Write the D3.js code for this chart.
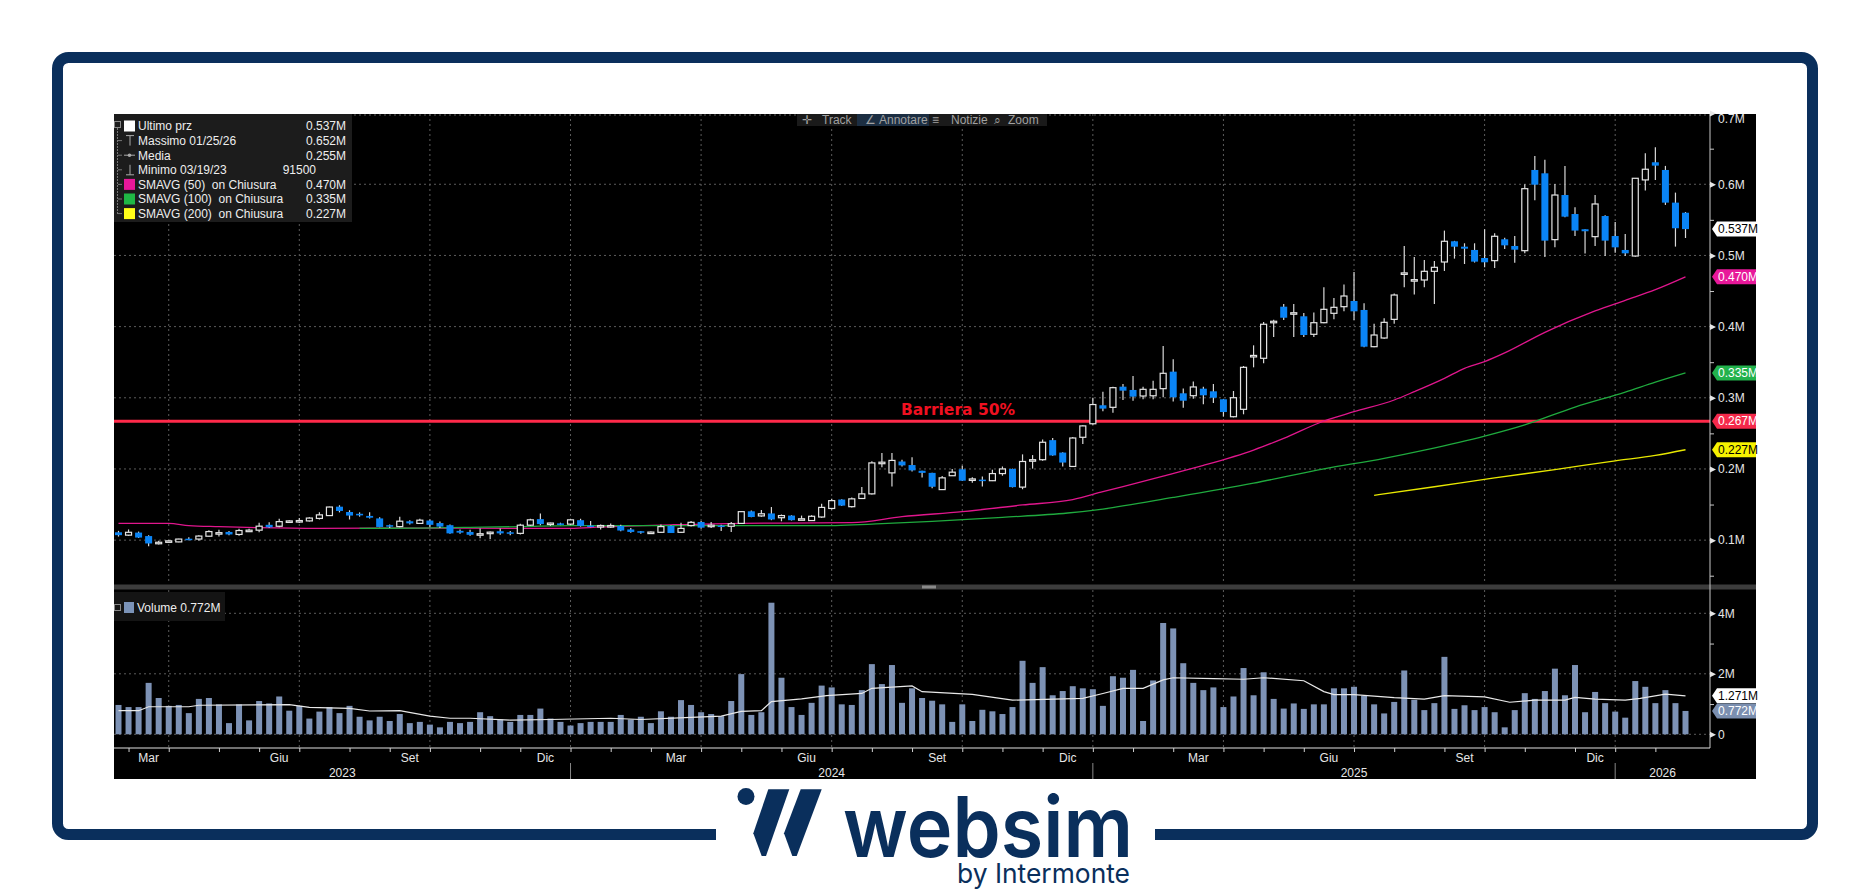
<!DOCTYPE html>
<html lang="it">
<head>
<meta charset="UTF-8">
<title>Grafico settimanale con barriera</title>
<script src="https://d3js.org/d3.v7.min.js"></script>
<style>
  body { margin: 0; background: #fff; }
  svg text { font-family: "Liberation Sans", Arial, sans-serif; }
</style>
</head>
<body>
<svg id="chart" width="1870" height="893"></svg>
<script>
// weekly candles, first bar = week of 26 Feb 2023
const firstWeek = new Date(2023, 1, 26);
const opens = [0.111,0.107,0.1106,0.1057,0.096,0.0975,0.0975,0.102,0.1015,0.1055,0.110,0.1115,0.108,0.1125,0.114,0.1215,0.1195,0.1255,0.127,0.127,
  0.1305,0.1345,0.147,0.1395,0.137,0.134,0.1305,0.121,0.119,0.1265,0.1235,0.1275,0.124,0.121,0.113,0.1115,0.1085,0.1108,0.1125,0.111,
  0.1095,0.121,0.1295,0.1235,0.1235,0.1225,0.128,0.1205,0.119,0.1195,0.120,0.115,0.1125,0.1107,0.111,0.120,0.111,0.1205,0.1255,0.1203,
  0.1205,0.1195,0.1235,0.1405,0.134,0.1375,0.1315,0.1345,0.1295,0.1275,0.1325,0.1445,0.157,0.147,0.1585,0.165,0.208,0.1945,0.2105,0.2055,
  0.1975,0.1945,0.171,0.1905,0.1995,0.1845,0.185,0.1835,0.1935,0.200,0.1745,0.212,0.213,0.2405,0.223,0.2035,0.2445,0.2635,0.2895,0.2866,
  0.3156,0.311,0.3025,0.3028,0.3128,0.3367,0.3063,0.3029,0.3128,0.3091,0.2979,0.2734,0.2838,0.3585,0.3555,0.4063,0.428,0.418,0.4145,0.3892,
  0.4055,0.4187,0.428,0.436,0.4234,0.3718,0.384,0.4102,0.474,0.465,0.4655,0.4777,0.4908,0.5199,0.5123,0.5077,0.4964,0.4927,0.5227,0.5133,
  0.5067,0.6201,0.6154,0.5222,0.5849,0.5582,0.5368,0.5264,0.5554,0.5273,0.5077,0.4992,0.6061,0.6309,0.6201,0.5742,0.560];
const highs = [0.113,0.115,0.112,0.107,0.099,0.100,0.102,0.104,0.107,0.114,0.1145,0.113,0.116,0.116,0.1245,0.125,0.130,0.128,0.131,0.132,
  0.139,0.147,0.149,0.142,0.139,0.139,0.132,0.122,0.133,0.128,0.130,0.129,0.126,0.122,0.115,0.1145,0.1165,0.112,0.1165,0.113,
  0.123,0.130,0.1375,0.1245,0.1245,0.130,0.130,0.127,0.122,0.1235,0.1215,0.117,0.113,0.112,0.122,0.1205,0.1245,0.127,0.127,0.1255,
  0.1215,0.1255,0.141,0.1415,0.1425,0.1465,0.136,0.135,0.1345,0.135,0.151,0.158,0.1575,0.160,0.1745,0.211,0.2225,0.2225,0.213,0.2165,
  0.1975,0.1945,0.190,0.200,0.2045,0.1885,0.1895,0.199,0.2035,0.2005,0.2205,0.2195,0.2415,0.2435,0.2235,0.245,0.2615,0.300,0.3085,0.3156,
  0.3194,0.3306,0.3156,0.324,0.3728,0.354,0.313,0.3228,0.3156,0.3194,0.2985,0.3095,0.3447,0.3737,0.4066,0.4097,0.4318,0.4318,0.4191,0.4199,
  0.4554,0.4402,0.4593,0.4766,0.4327,0.4041,0.4116,0.4467,0.5131,0.4978,0.4936,0.4922,0.5349,0.5205,0.5171,0.5171,0.5367,0.5311,0.525,0.5273,
  0.600,0.6398,0.6343,0.6005,0.6258,0.5677,0.5368,0.5849,0.5564,0.547,0.5301,0.6084,0.6436,0.652,0.6258,0.5883,0.561];
const lows = [0.105,0.106,0.103,0.0915,0.094,0.097,0.097,0.100,0.099,0.105,0.105,0.107,0.106,0.112,0.111,0.117,0.118,0.124,0.124,0.126,
  0.129,0.134,0.139,0.129,0.133,0.1305,0.118,0.117,0.118,0.122,0.123,0.118,0.117,0.109,0.109,0.106,0.1025,0.1015,0.1075,0.107,
  0.108,0.120,0.121,0.120,0.121,0.121,0.119,0.118,0.115,0.1175,0.1125,0.1105,0.109,0.110,0.110,0.110,0.110,0.119,0.116,0.117,
  0.113,0.1115,0.123,0.132,0.133,0.128,0.1265,0.1275,0.129,0.127,0.1315,0.143,0.148,0.146,0.158,0.164,0.2025,0.1755,0.2035,0.1965,
  0.188,0.173,0.1705,0.190,0.183,0.1805,0.1755,0.183,0.1905,0.174,0.1715,0.2005,0.2115,0.2185,0.2035,0.203,0.235,0.262,0.281,0.2791,
  0.2969,0.2959,0.298,0.298,0.3006,0.2947,0.2861,0.2987,0.291,0.2926,0.2735,0.2725,0.2768,0.3428,0.3485,0.3854,0.4093,0.3854,0.3854,0.3854,
  0.4046,0.4102,0.4215,0.4093,0.371,0.3709,0.383,0.4041,0.4554,0.4452,0.4554,0.4318,0.4782,0.4955,0.488,0.49,0.4834,0.4824,0.5091,0.4899,
  0.503,0.5774,0.4978,0.5114,0.5536,0.5274,0.5026,0.5133,0.4992,0.5039,0.4992,0.4983,0.5911,0.6061,0.571,0.5124,0.5245];
const closes = [0.107,0.111,0.1036,0.0953,0.097,0.099,0.1015,0.1015,0.1057,0.112,0.1105,0.108,0.1135,0.114,0.1196,0.118,0.126,0.127,0.1275,0.131,
  0.1355,0.1465,0.141,0.1345,0.1348,0.1315,0.1185,0.119,0.1266,0.1235,0.128,0.1215,0.119,0.1095,0.1105,0.1075,0.109,0.1112,0.1095,0.1095,
  0.121,0.1285,0.1225,0.124,0.123,0.1285,0.120,0.119,0.1205,0.1205,0.1135,0.1115,0.1105,0.1113,0.119,0.110,0.1165,0.125,0.1175,0.121,
  0.1195,0.123,0.140,0.1325,0.137,0.129,0.1345,0.128,0.130,0.1335,0.146,0.1555,0.1485,0.158,0.165,0.2085,0.2095,0.212,0.205,0.198,
  0.1945,0.175,0.1875,0.1955,0.1835,0.186,0.1835,0.1935,0.200,0.1745,0.2105,0.213,0.2375,0.219,0.209,0.2435,0.2605,0.2905,0.2848,0.3142,
  0.310,0.3016,0.3119,0.3119,0.3344,0.3007,0.2959,0.3152,0.3035,0.3001,0.28,0.3001,0.3428,0.3595,0.4033,0.4075,0.4125,0.4195,0.3882,0.4055,
  0.4243,0.4271,0.443,0.4215,0.3718,0.3882,0.406,0.4444,0.4755,0.466,0.4777,0.4833,0.5199,0.5123,0.5095,0.4913,0.4904,0.5269,0.5142,0.5081,
  0.5938,0.5994,0.5208,0.5849,0.5545,0.5349,0.534,0.5723,0.5208,0.5114,0.503,0.6084,0.6211,0.6262,0.5742,0.5382,0.537];
// weekly volume, millions
const volumes = [0.97,0.90,0.90,1.70,1.20,0.94,0.97,0.70,1.17,1.20,0.99,0.37,0.99,0.46,1.10,1.02,1.25,0.78,0.94,0.52,
  0.75,0.90,0.70,0.94,0.58,0.46,0.58,0.44,0.67,0.37,0.41,0.32,0.23,0.41,0.37,0.41,0.73,0.60,0.49,0.41,
  0.64,0.64,0.85,0.52,0.41,0.29,0.37,0.41,0.41,0.41,0.64,0.49,0.58,0.37,0.76,0.58,1.13,0.97,0.73,0.67,
  0.60,1.10,1.99,0.64,0.73,4.35,1.87,0.90,0.64,1.04,1.61,1.55,0.99,0.97,1.46,2.32,1.66,2.29,1.04,1.52,
  1.20,1.11,0.99,0.41,0.99,0.44,0.81,0.76,0.67,0.90,2.43,1.70,2.22,1.29,1.43,1.59,1.52,1.49,0.94,1.92,
  1.87,2.13,0.44,1.78,3.68,3.50,2.35,1.70,1.46,1.55,0.90,1.25,2.19,1.29,2.05,1.17,0.85,1.02,0.84,0.99,
  0.99,1.52,1.52,1.57,1.27,0.99,0.69,1.07,2.11,1.14,0.80,1.03,2.56,0.84,0.96,0.80,0.90,0.73,0.23,0.80,
  1.36,1.17,1.43,2.17,1.29,2.29,0.73,1.40,1.03,0.75,0.55,1.76,1.57,1.03,1.46,1.03,0.772];
// lines as [bar, value]
const volAvg = [[0,0.78],[2,0.78],[3,0.91],[7,0.91],[8,0.96],[17,0.98],[19,0.89],[23,0.86],[25,0.77],[28,0.78],[31,0.60],[33,0.53],
  [35,0.53],[39,0.47],[43,0.49],[49,0.53],[52,0.49],[57,0.56],[60,0.60],[62,0.76],[64,0.78],[65,1.08],[68,1.17],[70.5,1.28],[74,1.35],
  [75,1.52],[79,1.60],[80,1.41],[85,1.32],[89,1.13],[96,1.19],[98,1.35],[100,1.52],[102,1.52],[104,1.80],[105,1.87],[109,1.84],[112,1.82],
  [114,1.87],[118,1.77],[120,1.41],[121,1.31],[123,1.31],[127,1.21],[130,1.16],[132,1.28],[136,1.24],[138.5,1.06],[141,1.13],[144,1.13],
  [145,1.22],[147,1.16],[150,1.13],[151.5,1.19],[154,1.33],[156,1.271]];
const sma50 = [[0,0.1235],[5,0.1235],[7,0.1205],[10,0.119],[14,0.1175],[20,0.1165],[30,0.117],[40,0.1165],[45,0.1165],[48,0.1185],
  [55,0.1215],[62,0.1236],[73,0.1245],[78,0.1329],[84,0.140],[90,0.1494],[95,0.157],[98,0.168],[104,0.190],[108,0.205],[113,0.2266],
  [116,0.243],[120,0.2674],[123,0.2804],[127,0.2969],[129,0.3086],[132,0.3273],[134,0.3414],[136,0.3508],[138,0.363],[142,0.392],
  [147,0.422],[150,0.437],[153,0.452],[156,0.470]];
const sma100 = [[24,0.1166],[30,0.117],[35,0.118],[40,0.119],[45,0.1205],[55,0.1205],[70,0.1203],[76,0.1231],[81,0.1264],[88,0.132],
  [94.5,0.1381],[98,0.1437],[105,0.16],[113,0.18],[120,0.20],[126,0.215],[130,0.2266],[136,0.2462],[140,0.262],[145,0.287],
  [150,0.308],[153,0.322],[156,0.335]];
const sma200 = [[125,0.163],[131,0.175],[137,0.1875],[143,0.199],[149,0.2115],[153,0.219],[156,0.227]];
const barrier = 0.267;
const priceTicks = [0.1,0.2,0.3,0.4,0.5,0.6,0.7];
const priceMinor = [0.05,0.15,0.25,0.35,0.45,0.55,0.65];
const volTicks = [0,2,4];
const volMinor = [1,3];
const monthNames = ['Gen','Feb','Mar','Apr','Mag','Giu','Lug','Ago','Set','Ott','Nov','Dic'];
const labelMonths = [2,5,8,11];
const gridMonths = [0,3,6,9];
const legendLabels = ['Ultimo prz','Massimo 01/25/26','Media','Minimo 03/19/23','SMAVG (50)  on Chiusura','SMAVG (100)  on Chiusura','SMAVG (200)  on Chiusura'];
const legendValues = ['0.537M','0.652M','0.255M','91500','0.470M','0.335M','0.227M'];
const priceTags = [[0.537,'0.537M','#ffffff','#000'],[0.470,'0.470M','#e8189a','#fff'],[0.335,'0.335M','#22b24c','#fff'],
  [0.267,'0.267M','#f4294a','#fff'],[0.227,'0.227M','#f6f200','#000']];
const volTags = [[1.271,'1.271M','#ffffff','#000'],[0.772,'0.772M','#7b8fb0','#fff']];

const navy = '#0a2f5c';
const svg = d3.select('#chart');
const L = 114, R = 1710, T = 114, PB = 584, VT = 590, VB = 748;

// frame + logo
svg.append('rect').attr('x', 57.5).attr('y', 57.5).attr('width', 1755).attr('height', 777)
  .attr('rx', 11).attr('fill', 'none').attr('stroke', navy).attr('stroke-width', 11);
svg.append('rect').attr('x', 716).attr('y', 820).attr('width', 439).attr('height', 30).attr('fill', '#fff');
svg.append('circle').attr('cx', 746).attr('cy', 796.5).attr('r', 8.5).attr('fill', navy);
svg.append('polygon').attr('points', '768.3,789.3 789.3,789.3 766,856 761.7,856 753.3,833.3').attr('fill', navy);
svg.append('polygon').attr('points', '800.7,789.3 821.7,789.3 796.7,856 792.3,856 784,833.3').attr('fill', navy);
svg.append('text').attr('x', 843).attr('y', 857).attr('textLength', 290).attr('lengthAdjust', 'spacingAndGlyphs')
  .style('font-family', 'Inter, sans-serif').style('font-weight', 600).style('font-size', '84px').attr('fill', navy).text('websim');
svg.append('text').attr('x', 957).attr('y', 883).attr('textLength', 173).attr('lengthAdjust', 'spacingAndGlyphs')
  .style('font-family', 'Inter, sans-serif').style('font-size', '27px').attr('fill', navy).text('by Intermonte');

// black chart area
svg.append('rect').attr('x', L).attr('y', T).attr('width', 1756 - L).attr('height', 779 - T).attr('fill', '#000');

const x = d3.scaleLinear().domain([0, 156]).range([118.5, 1685.5]);
const y = d3.scaleLinear().domain([0, 0.7]).range([611.3, 113.1]);
const yv = d3.scaleLinear().domain([0, 4]).range([734.3, 613.3]);
const dates = opens.map((_, i) => d3.timeWeek.offset(firstWeek, i));
const monthStarts = dates.map((d, i) => i).filter(i => i > 0 && dates[i].getMonth() !== dates[i - 1].getMonth());

svg.append('clipPath').attr('id', 'pclip').append('rect').attr('x', L).attr('y', T).attr('width', R - L).attr('height', PB - T);
svg.append('clipPath').attr('id', 'vclip').append('rect').attr('x', L).attr('y', VT).attr('width', R - L).attr('height', VB - VT);

const grid = svg.append('g').attr('stroke', '#5c5c5c').attr('stroke-dasharray', '2,3').attr('stroke-width', 1);
priceTicks.forEach(v => grid.append('line').attr('x1', L).attr('x2', R).attr('y1', Math.max(T + 1, y(v))).attr('y2', Math.max(T + 1, y(v))));
volTicks.forEach(v => grid.append('line').attr('x1', L).attr('x2', R).attr('y1', yv(v)).attr('y2', yv(v)));
monthStarts.filter(i => gridMonths.includes(dates[i].getMonth())).forEach(i => {
  grid.append('line').attr('x1', x(i)).attr('x2', x(i)).attr('y1', T).attr('y2', PB);
  grid.append('line').attr('x1', x(i)).attr('x2', x(i)).attr('y1', VT).attr('y2', VB);
});

// toolbar
svg.append('rect').attr('x', 797).attr('y', 114).attr('width', 250).attr('height', 12).attr('fill', '#1a1a1a');
svg.append('rect').attr('x', 857).attr('y', 114).attr('width', 72).attr('height', 12).attr('fill', '#1c2e42');
[['\u271B', 802], ['Track', 822], ['\u2220', 865], ['Annotare', 879], ['\u2261', 932], ['Notizie', 951], ['\u2315', 994], ['Zoom', 1008]]
  .forEach(([t, px]) => svg.append('text').attr('x', px).attr('y', 124).attr('fill', '#a0a0a0').style('font-size', '12px').text(t));

// barrier
svg.append('line').attr('x1', L).attr('x2', R).attr('y1', y(barrier)).attr('y2', y(barrier)).attr('stroke', '#ff2a4a').attr('stroke-width', 3);
svg.append('text').attr('x', 958).attr('y', 415).attr('text-anchor', 'middle').attr('fill', '#f01020')
  .style('font-family', '"DejaVu Sans", sans-serif').style('font-weight', 'bold').style('font-size', '15.5px').text('Barriera 50%');

// moving averages
const line = d3.line().x(d => x(d[0])).y(d => y(d[1])).curve(d3.curveMonotoneX);
const pg = svg.append('g').attr('clip-path', 'url(#pclip)');
[[sma50, '#e0168d'], [sma100, '#1faa3e'], [sma200, '#e8e800']].forEach(([data, col]) =>
  pg.append('path').datum(data).attr('d', line).attr('fill', 'none').attr('stroke', col).attr('stroke-width', 1.3));

// candles
const candles = opens.map((o, i) => ({ i, o, h: highs[i], l: lows[i], c: closes[i] }));
pg.selectAll('.wick').data(candles).enter().append('line')
  .attr('x1', d => x(d.i)).attr('x2', d => x(d.i)).attr('y1', d => y(d.h)).attr('y2', d => y(d.l))
  .attr('stroke', '#d8d8d8').attr('stroke-width', 1.2);
pg.selectAll('.body').data(candles).enter().append('rect')
  .attr('x', d => x(d.i) - (d.c >= d.o ? 3 : 3.5))
  .attr('width', d => d.c >= d.o ? 6 : 7)
  .attr('y', d => y(Math.max(d.o, d.c)))
  .attr('height', d => Math.max(1.5, Math.abs(y(d.o) - y(d.c))))
  .attr('fill', d => d.c >= d.o ? '#000' : '#0a84f5')
  .attr('stroke', d => d.c >= d.o ? '#e4e4e4' : 'none').attr('stroke-width', 1.2);

// panel separator
svg.append('rect').attr('x', L).attr('y', 584.5).attr('width', 1756 - L).attr('height', 5).attr('fill', '#3c3c3c');
svg.append('rect').attr('x', 922).attr('y', 585.5).attr('width', 14).attr('height', 3).attr('fill', '#8a8a8a');

// volume
const vg = svg.append('g').attr('clip-path', 'url(#vclip)');
vg.selectAll('.vol').data(volumes).enter().append('rect')
  .attr('x', (d, i) => x(i) - 3).attr('width', 6).attr('y', d => yv(d)).attr('height', d => yv(0) - yv(d)).attr('fill', '#7d92b5');
vg.append('path').datum(volAvg).attr('d', d3.line().x(d => x(d[0])).y(d => yv(d[1])))
  .attr('fill', 'none').attr('stroke', '#e8e8e8').attr('stroke-width', 1.2);

// legends
svg.append('rect').attr('x', L).attr('y', T).attr('width', 238).attr('height', 108).attr('fill', '#1c1c1c');
const lg = svg.append('g');
lg.append('rect').attr('x', 114.5).attr('y', 121.5).attr('width', 6).attr('height', 6).attr('fill', 'none').attr('stroke', '#888');
lg.append('line').attr('x1', 117.5).attr('x2', 117.5).attr('y1', 128).attr('y2', 214).attr('stroke', '#777').attr('stroke-dasharray', '2,1');
const swatch = ['#ffffff', null, null, null, '#e8189a', '#1fb845', '#ffff1a'];
legendLabels.forEach((t, k) => {
  const cy = 126 + 14.6 * k;
  if (k > 0) lg.append('line').attr('x1', 118).attr('x2', 122).attr('y1', cy).attr('y2', cy).attr('stroke', '#777');
  if (swatch[k]) lg.append('rect').attr('x', 124).attr('y', cy - 5.5).attr('width', 11).attr('height', 11).attr('fill', swatch[k]);
  else if (k === 2) {
    lg.append('line').attr('x1', 124).attr('x2', 135).attr('y1', cy).attr('y2', cy).attr('stroke', '#aaa');
    lg.append('circle').attr('cx', 129.5).attr('cy', cy).attr('r', 1.8).attr('fill', '#aaa');
  } else {
    const ty = k === 1 ? cy - 5 : cy + 5;
    lg.append('line').attr('x1', 126).attr('x2', 134).attr('y1', ty).attr('y2', ty).attr('stroke', '#aaa');
    lg.append('line').attr('x1', 130).attr('x2', 130).attr('y1', cy - 5).attr('y2', cy + 5).attr('stroke', '#aaa');
  }
  lg.append('text').attr('x', 138).attr('y', cy + 4.3).attr('fill', '#eee').style('font-size', '12px').attr('xml:space', 'preserve').text(t);
  lg.append('text').attr('x', k === 3 ? 316 : 346).attr('y', cy + 4.3).attr('text-anchor', 'end').attr('fill', '#eee').style('font-size', '12px').text(legendValues[k]);
});
svg.append('rect').attr('x', L).attr('y', 592).attr('width', 111).attr('height', 29).attr('fill', '#141414');
svg.append('rect').attr('x', 114.5).attr('y', 604.5).attr('width', 6).attr('height', 6).attr('fill', 'none').attr('stroke', '#888');
svg.append('rect').attr('x', 124).attr('y', 602).attr('width', 10).attr('height', 11).attr('fill', '#7b93b8');
svg.append('text').attr('x', 137).attr('y', 611.5).attr('fill', '#eee').style('font-size', '12px').text('Volume 0.772M');

// right axes
function styleAxis(g) {
  g.select('.domain').remove();
  g.selectAll('text').attr('fill', '#e6e6e6').style('font-size', '12px');
  g.selectAll('line').attr('stroke', '#c8c8c8');
}
svg.append('line').attr('x1', R).attr('x2', R).attr('y1', T).attr('y2', VB).attr('stroke', '#c8c8c8');
const pa = svg.append('g').attr('transform', `translate(${R},0)`)
  .call(d3.axisRight(y).tickValues(priceTicks).tickSize(0).tickPadding(8).tickFormat(d => d3.format('.1f')(d) + 'M'));
styleAxis(pa);
pa.selectAll('.tick').append('path').attr('d', 'M0,-3L6,0L0,3Z').attr('fill', '#e6e6e6');
// top label sits just inside the panel
pa.selectAll('.tick').filter(d => d === 0.7).select('text').attr('dy', '0.75em');
styleAxis(svg.append('g').attr('transform', `translate(${R},0)`).call(d3.axisRight(y).tickValues(priceMinor).tickSize(4).tickFormat('')));
const va = svg.append('g').attr('transform', `translate(${R},0)`)
  .call(d3.axisRight(yv).tickValues(volTicks).tickSize(0).tickPadding(8).tickFormat(d => d ? d + 'M' : '0'));
styleAxis(va);
va.selectAll('.tick').append('path').attr('d', 'M0,-3L6,0L0,3Z').attr('fill', '#e6e6e6');
styleAxis(svg.append('g').attr('transform', `translate(${R},0)`).call(d3.axisRight(yv).tickValues(volMinor).tickSize(4).tickFormat('')));

function tag(yy, label, bg, fg) {
  svg.append('path').attr('d', `M1712,${yy}L1717,${yy - 7.5}H1756V${yy + 7.5}H1717Z`).attr('fill', bg);
  svg.append('text').attr('x', 1718).attr('y', yy + 4.2).attr('fill', fg).style('font-size', '12px').text(label);
}
priceTags.forEach(d => tag(y(d[0]), d[1], d[2], d[3]));
volTags.forEach(d => tag(yv(d[0]), d[1], d[2], d[3]));

// bottom time axis
const xa = svg.append('g').attr('transform', `translate(0,${VB})`)
  .call(d3.axisBottom(x).tickValues(monthStarts).tickSize(4).tickFormat(''));
xa.select('.domain').attr('d', `M${L},0H${R}`).attr('stroke', '#e0e0e0');
xa.selectAll('line').attr('stroke', '#d0d0d0');
monthStarts.forEach((i, k) => {
  const m = dates[i].getMonth();
  if (!labelMonths.includes(m)) return;
  const xr = k + 1 < monthStarts.length ? x(monthStarts[k + 1]) : R;
  svg.append('text').attr('x', (x(i) + xr) / 2).attr('y', 761.5).attr('text-anchor', 'middle')
    .attr('fill', '#e6e6e6').style('font-size', '12px').text(monthNames[m]);
});
const yearStarts = monthStarts.filter(i => dates[i].getMonth() === 0);
const bounds = [L, ...yearStarts.map(i => x(i)), R];
yearStarts.forEach(i => svg.append('line').attr('x1', x(i)).attr('x2', x(i)).attr('y1', 763).attr('y2', 779).attr('stroke', '#888'));
bounds.slice(0, -1).forEach((b, k) => {
  svg.append('text').attr('x', (b + bounds[k + 1]) / 2).attr('y', 776.5).attr('text-anchor', 'middle')
    .attr('fill', '#e6e6e6').style('font-size', '12px').text(dates[0].getFullYear() + k);
});
</script>
</body>
</html>
